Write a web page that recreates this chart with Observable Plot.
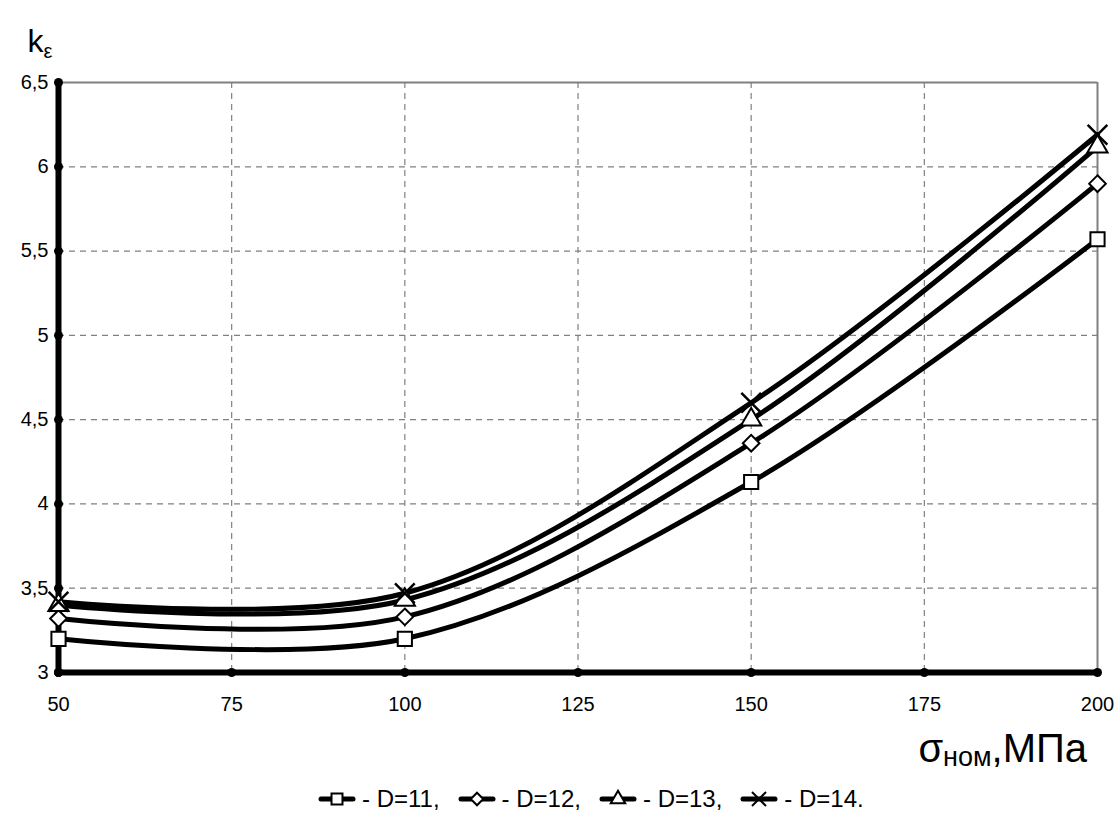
<!DOCTYPE html>
<html>
<head>
<meta charset="utf-8">
<script src="https://cdn.jsdelivr.net/npm/d3@7"></script>
<script src="https://cdn.jsdelivr.net/npm/@observablehq/plot@0.6"></script>
<style>
  body { margin: 0; background: #fff; font-family: "Liberation Sans", Arial, sans-serif; }
  #wrap { position: relative; width: 1118px; height: 830px; }
  #legend { position: absolute; left: 318px; top: 785px; display: flex; align-items: center; gap: 18px; font-size: 24px; }
  #legend .item { display: flex; align-items: center; gap: 6px; }
</style>
</head>
<body>
<div id="wrap">
<div id="chart"></div>
<div id="legend"></div>
</div>
<script>
const sigma = [50, 100, 150, 200];
const D11 = [3.2, 3.2, 4.13, 5.57];
const D12 = [3.32, 3.33, 4.36, 5.90];
const D13 = [3.40, 3.43, 4.50, 6.12];
const D14 = [3.42, 3.47, 4.60, 6.19];
const seriesNames = ["D=11", "D=12", "D=13", "D=14"];
const seriesSymbols = ["square", "diamond2", "triangle", "times"];
const xTicks = [50, 75, 100, 125, 150, 175, 200];
const yTicks = [3, 3.5, 4, 4.5, 5, 5.5, 6, 6.5];

const seriesValues = [D11, D12, D13, D14];
const rows = seriesValues.flatMap((vals, i) => sigma.map((s, j) => ({x: s, y: vals[j], name: seriesNames[i], sym: seriesSymbols[i]})));
const fmt = d => String(d).replace(".", ",");

const W = 1118, H = 780;
const plot = Plot.plot({
  width: W, height: H,
  marginTop: 82, marginBottom: 108, marginLeft: 58, marginRight: 21,
  style: {fontFamily: "Liberation Sans, Arial, sans-serif", color: "#000", background: "#fff", overflow: "visible"},
  x: {domain: [50, 200], label: null, axis: null},
  y: {domain: [3, 6.5], label: null, axis: null},
  symbol: {domain: seriesNames, range: seriesSymbols},
  marks: [
    Plot.gridX(xTicks.slice(1, -1), {stroke: "#808080", strokeOpacity: 1, strokeDasharray: "6,5", strokeWidth: 1.2}),
    Plot.gridY(yTicks.slice(1, -1), {stroke: "#808080", strokeOpacity: 1, strokeDasharray: "6,5", strokeWidth: 1.2}),
    Plot.ruleY([6.5], {stroke: "#808080", strokeWidth: 2}),
    Plot.ruleX([200], {stroke: "#808080", strokeWidth: 2}),
    Plot.line(rows, {x: "x", y: "y", z: "name", curve: "catmull-rom", stroke: "#000", strokeWidth: 5}),
    Plot.ruleX([50], {stroke: "#000", strokeWidth: 6}),
    Plot.ruleY([3], {stroke: "#000", strokeWidth: 6}),
    Plot.dot(yTicks, {x: () => 50, y: d => d, r: 4.5, fill: "#000", stroke: "none"}),
    Plot.dot(xTicks, {x: d => d, y: () => 3, r: 4.5, fill: "#000", stroke: "none"}),
    Plot.dot(rows.filter(d => d.sym === "square"), {x: "x", y: "y", symbol: "name", r: 8, fill: "#fff", stroke: "#000", strokeWidth: 2}),
    Plot.dot(rows.filter(d => d.sym === "diamond2"), {x: "x", y: "y", symbol: "name", r: 7.5, fill: "#fff", stroke: "#000", strokeWidth: 2}),
    Plot.dot(rows.filter(d => d.sym === "triangle"), {x: "x", y: "y", symbol: "name", r: 7.5, fill: "#fff", stroke: "#000", strokeWidth: 2}),
    Plot.dot(rows.filter(d => d.sym === "times"), {x: "x", y: "y", symbol: "name", r: 9, fill: "none", stroke: "#000", strokeWidth: 2.5}),
    Plot.text(yTicks, {x: () => 50, y: d => d, text: fmt, textAnchor: "end", dx: -10, fontSize: 20, fill: "#000"}),
    Plot.text(xTicks, {x: d => d, y: () => 3, text: fmt, lineAnchor: "middle", dy: 32, fontSize: 20, fill: "#000"})
  ]
});
document.getElementById("chart").appendChild(plot);

const svg = d3.select(plot);
// y axis title
const yt = svg.append("text").attr("x", 40).attr("y", 52)
  .style("font-family", "Liberation Sans, Arial, sans-serif").style("font-size", "32px").attr("fill", "#000");
yt.append("tspan").text("k");
yt.append("tspan").style("font-size", "20px").attr("dy", 6).text("ε");
// x axis title
const xt = svg.append("text").attr("x", 1087).attr("y", 762).attr("text-anchor", "end")
  .style("font-family", "Liberation Sans, Arial, sans-serif").style("font-size", "40px").attr("fill", "#000");
xt.append("tspan").text("σ");
xt.append("tspan").style("font-size", "27px").attr("dy", 4).text("ном");
xt.append("tspan").attr("dy", -4).text(",МПа");

// legend
const legend = d3.select("#legend");
const symFns = {square: d3.symbolSquare, diamond2: d3.symbolDiamond2, triangle: d3.symbolTriangle, times: d3.symbolTimes};
const symSize = {square: 120, diamond2: 100, triangle: 90, times: 130};
seriesNames.forEach((name, i) => {
  const item = legend.append("div").attr("class", "item");
  const s = item.append("svg").attr("width", 38).attr("height", 24);
  s.append("line").attr("x1", 3).attr("x2", 35).attr("y1", 12).attr("y2", 12).attr("stroke", "#000").attr("stroke-width", 5).attr("stroke-linecap", "round");
  const sym = seriesSymbols[i];
  s.append("path").attr("transform", "translate(19,12)")
    .attr("d", d3.symbol(symFns[sym], symSize[sym])())
    .attr("fill", sym === "times" ? "none" : "#fff").attr("stroke", "#000").attr("stroke-width", 2);
  item.append("span").text("- " + name + (i < seriesNames.length - 1 ? "," : "."));
});
</script>
</body>
</html>
